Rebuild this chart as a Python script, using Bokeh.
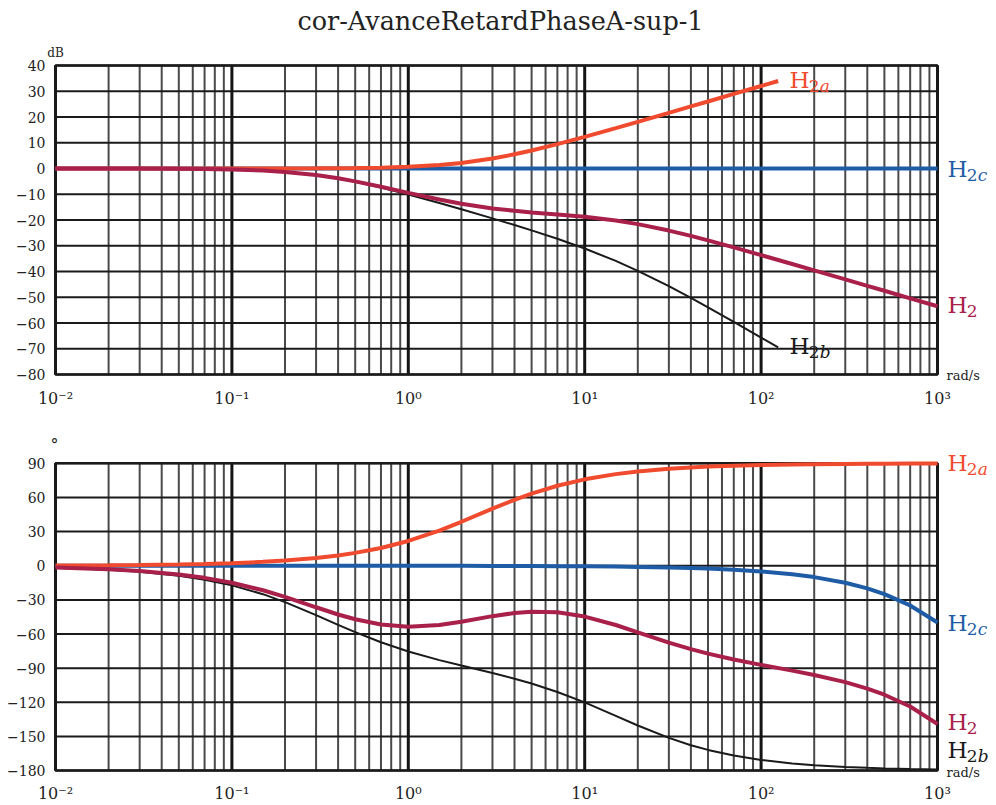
import numpy as np
from bokeh.plotting import figure
from bokeh.layouts import column
from bokeh.models import FixedTicker, Label, Range1d
from bokeh.embed import file_html
from bokeh.resources import INLINE

# ---------------- data ----------------
# angular frequency (rad/s)
w_full = [0.01, 0.02, 0.03, 0.05, 0.07, 0.1, 0.15, 0.2, 0.3, 0.4, 0.5, 0.7, 1, 1.5, 2,
          3, 4, 5, 7, 10, 15, 20, 30, 40, 50, 70, 100, 150, 200, 300, 400, 500, 700, 1000]
w_short = [0.01, 0.02, 0.03, 0.05, 0.07, 0.1, 0.15, 0.2, 0.3, 0.4, 0.5, 0.7, 1, 1.5, 2,
           3, 4, 5, 7, 10, 15, 20, 30, 40, 50, 70, 100, 125]

# gain (dB)
gain_H2a = [0.00, 0.00, 0.00, 0.00, 0.00, 0.01, 0.02, 0.03, 0.06, 0.11, 0.17, 0.33, 0.64, 1.34,
            2.15, 3.87, 5.51, 6.99, 9.46, 12.30, 15.68, 18.13, 21.61, 24.10, 26.03, 28.95,
            32.04, 33.98]
gain_H2b = [0.00, -0.02, -0.04, -0.10, -0.19, -0.38, -0.82, -1.36, -2.62, -3.93, -5.18, -7.41,
            -10.10, -13.40, -15.84, -19.37, -21.96, -24.04, -27.30, -31.07, -35.90, -39.74,
            -45.72, -50.27, -53.93, -59.57, -65.66, -69.50]
gain_H2c = [0.0] * len(w_full)
gain_H2 = [0.00, -0.02, -0.04, -0.10, -0.19, -0.37, -0.80, -1.33, -2.56, -3.82, -5.01, -7.08,
           -9.46, -12.06, -13.69, -15.50, -16.45, -17.05, -17.84, -18.77, -20.22, -21.61,
           -24.11, -26.17, -27.90, -30.62, -33.62, -37.08, -39.56, -43.06, -45.56, -47.49,
           -50.41, -53.51]

# phase (degrees)
phase_H2a = [0.23, 0.46, 0.69, 1.15, 1.60, 2.29, 3.43, 4.57, 6.84, 9.09, 11.31, 15.64, 21.80,
             30.96, 38.66, 50.19, 57.99, 63.43, 70.35, 75.96, 80.54, 82.87, 85.24, 86.42,
             87.14, 87.95, 88.57, 89.05, 89.28, 89.52, 89.64, 89.71, 89.80, 89.86]
phase_H2b = [-1.78, -3.54, -5.30, -8.80, -12.23, -17.22, -24.98, -31.94, -43.34, -51.91,
             -58.37, -67.27, -75.32, -82.95, -87.76, -94.34, -99.32, -103.57, -110.93,
             -120.12, -131.89, -140.39, -151.30, -157.73, -161.88, -166.86, -170.72,
             -173.78, -175.34, -176.89, -177.66, -178.13, -178.66, -179.06]
phase_H2c = [0, 0, 0, 0, 0, 0, 0, -0.01, -0.01, -0.02, -0.02, -0.03, -0.05, -0.07, -0.10,
             -0.15, -0.20, -0.25, -0.35, -0.50, -0.75, -1.00, -1.50, -1.99, -2.49, -3.49,
             -4.99, -7.48, -9.97, -14.96, -19.94, -24.93, -34.90, -49.85]
phase_H2 = [-1.55, -3.08, -4.61, -7.65, -10.63, -14.93, -21.55, -27.37, -36.50, -42.84,
            -47.06, -51.63, -53.57, -52.06, -49.20, -44.30, -41.53, -40.39, -40.93, -44.66,
            -52.10, -58.52, -67.56, -73.30, -77.23, -82.40, -87.14, -92.21, -96.03, -102.33,
            -107.96, -113.35, -123.76, -139.05]

x_decades = [0.01, 0.1, 1, 10, 100, 1000]
x_labels = ["10⁻²", "10⁻¹", "10⁰", "10¹", "10²", "10³"]
x_minor = [k * d for d in [0.01, 0.1, 1, 10, 100] for k in range(2, 10)]
gain_ticks = list(range(-80, 41, 10))
phase_ticks = list(range(-180, 91, 30))

title_text = "cor-AvanceRetardPhaseA-sup-1"

# ---------------- styling ----------------
FONT = "DejaVu Serif"
C_A = "#f04b2f"
C_B = "#1a1a1a"
C_C = "#1f5ca6"
C_H = "#a9204a"
PX_DEC = 176.4          # pixels per decade on the frequency axis
FIG_W = 996
LEFT = 46               # canvas x where the (extended) frame starts
GRID_LEFT = 55          # canvas x of the 10^-2 line
GRID_RIGHT = 937        # canvas x of the 10^3 line


def lbl(v):
    return ("−" + str(-v)) if v < 0 else str(v)


def make_fig(h, yticks, top_px, bottom_px, frame_bottom_px, bottom_border):
    """Frame extended around the grid so that the curve names fit inside it."""
    y0, y1 = yticks[0], yticks[-1]
    ppu = (bottom_px - top_px) / (y1 - y0)            # pixels per unit
    y_hi = y1 + top_px / ppu
    y_lo = y0 - (frame_bottom_px - bottom_px) / ppu
    x_lo = x_decades[0] * 10 ** (-(GRID_LEFT - LEFT) / PX_DEC)
    x_hi = x_decades[-1] * 10 ** ((FIG_W - GRID_RIGHT) / PX_DEC)
    p = figure(width=FIG_W, height=h, x_axis_type="log",
               x_range=Range1d(x_lo, x_hi), y_range=Range1d(y_lo, y_hi),
               output_backend="svg", toolbar_location=None,
               min_border_left=LEFT, min_border_right=0,
               min_border_top=0, min_border_bottom=bottom_border)
    p.background_fill_color = "white"
    p.border_fill_color = "white"
    p.outline_line_color = None
    p.xgrid.visible = False
    p.ygrid.visible = False
    p.xaxis.ticker = FixedTicker(ticks=x_decades)
    p.yaxis.ticker = FixedTicker(ticks=yticks)
    for ax in (p.xaxis, p.yaxis):
        ax.axis_line_color = None
        ax.major_tick_line_color = None
        ax.minor_tick_line_color = None
        ax.major_tick_out = 0
        ax.major_tick_in = 0
        ax.minor_tick_out = 0
        ax.minor_tick_in = 0
        ax.major_label_text_font = FONT
        ax.major_label_text_color = "#222222"
    p.yaxis.major_label_text_font_size = "14px"
    p.yaxis.major_label_standoff = 1
    p.yaxis.major_label_overrides = {v: lbl(v) for v in yticks}
    p.xaxis.major_label_text_font_size = "16px"
    p.xaxis.major_label_standoff = 4
    p.xaxis.major_label_overrides = {d: t for d, t in zip(x_decades, x_labels)}

    # log grid (minor, major), horizontal grid and the box, at the tick values
    p.segment(x0=x_minor, x1=x_minor, y0=[y0] * len(x_minor), y1=[y1] * len(x_minor),
              line_color="#4a4a4a", line_width=2)
    p.segment(x0=yticks and [x_decades[0]] * len(yticks), x1=[x_decades[-1]] * len(yticks),
              y0=yticks, y1=yticks, line_color="#1a1a1a", line_width=2)
    p.segment(x0=x_decades, x1=x_decades, y0=[y0] * len(x_decades), y1=[y1] * len(x_decades),
              line_color="#141414", line_width=3)
    p.quad(left=[x_decades[0]], right=[x_decades[-1]], bottom=[y0], top=[y1],
           fill_color=None, line_color="#1a1a1a", line_width=2.5)
    return p


def put(p, x, y, text, size, color, style="normal", align="left"):
    p.add_layout(Label(x=x, y=y, x_units="canvas", y_units="canvas", text=text,
                       text_font=FONT, text_font_size=f"{size}px", text_color=color,
                       text_font_style=style, text_align=align, text_baseline="middle"))


def hlabel(p, x, yc, digit, letter, color, size=23, sub=17):
    # x: left edge of "H"; yc: vertical centre of its capital (canvas pixels)
    put(p, x, yc, "H", size, color)
    put(p, x + 0.84 * size, yc + 6.5, digit, sub, color)
    if letter:
        put(p, x + 0.84 * size + 0.64 * sub, yc + 6.5, letter, sub, color, style="italic")


# ---------------- gain plot ----------------
p1 = make_fig(414, gain_ticks, 65, 374, 384, 30)
p1.line(w_short, gain_H2b, line_color=C_B, line_width=2)
p1.line(w_full, gain_H2c, line_color=C_C, line_width=4)
p1.line(w_short, gain_H2a, line_color=C_A, line_width=4)
p1.line(w_full, gain_H2, line_color=C_H, line_width=4)

hlabel(p1, 789, 79, "2", "a", C_A)
hlabel(p1, 947, 168, "2", "c", C_C)
hlabel(p1, 947, 304, "2", None, C_H)
hlabel(p1, 789, 345, "2", "b", C_B)
put(p1, 55, 52, "dB", 12, "#222222", align="center")
put(p1, 946, 375, "rad/s", 13, "#222222")
put(p1, 500, 20, title_text, 25.5, "#222222", align="center")

# ---------------- phase plot ----------------
p2 = make_fig(391, phase_ticks, 49, 357, 366, 25)
p2.line(w_full, phase_H2b, line_color=C_B, line_width=2)
p2.line(w_full, phase_H2c, line_color=C_C, line_width=4)
p2.line(w_full, phase_H2a, line_color=C_A, line_width=4)
p2.line(w_full, phase_H2, line_color=C_H, line_width=4)

hlabel(p2, 947, 48, "2", "a", C_A)
hlabel(p2, 947, 208, "2", "c", C_C)
hlabel(p2, 947, 307, "2", None, C_H)
hlabel(p2, 947, 335, "2", "b", C_B)
put(p2, 54, 30, "°", 16, "#222222", align="center")
put(p2, 946, 358, "rad/s", 13, "#222222")

layout = column(p1, p2)
open("out.html", "w").write(file_html(layout, INLINE))
